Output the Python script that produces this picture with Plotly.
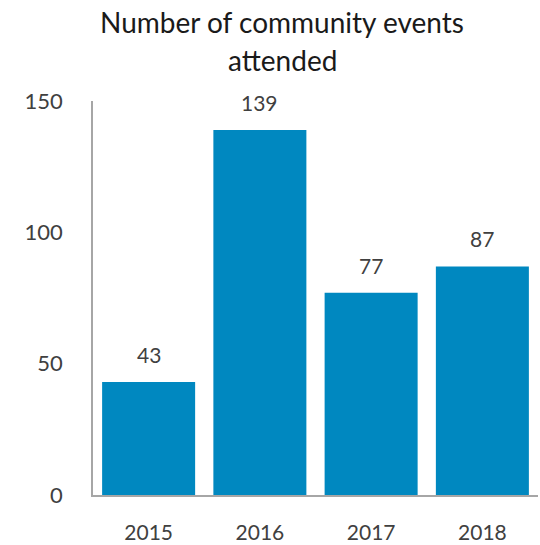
import plotly.graph_objects as go

years = ["2015", "2016", "2017", "2018"]
events = [43, 139, 77, 87]
y_ticks = [0, 50, 100, 150]
title_lines = ["Number of community events", "attended"]

BAR_COLOR = "#0088C0"
TITLE_COLOR = "#1A1A1A"
LABEL_COLOR = "#404040"
FONT = "Lato"

W, H = 540, 545
L, R, T, B = 93, 2, 101, 50
plot_w = W - L - R
plot_h = H - T - B

fig = go.Figure()
fig.add_trace(go.Bar(
    x=years,
    y=events,
    marker=dict(color=BAR_COLOR, line=dict(width=0)),
    hoverinfo="skip",
))

# value labels above each bar (positioned by category index)
for i, v in enumerate(events):
    fig.add_annotation(
        x=i, y=v, text=str(v), showarrow=False,
        xref="x", yref="y",
        yanchor="bottom", yshift=13,
        font=dict(family=FONT, size=21, color=LABEL_COLOR),
    )

# two-line chart title, one annotation per line (pixel centres 22 and 60)
for line, cy in zip(title_lines, [22, 60]):
    fig.add_annotation(
        text=line,
        xref="paper", yref="paper",
        x=(282 - L) / plot_w, y=(H - B - cy) / plot_h,
        xanchor="center", yanchor="middle", showarrow=False,
        font=dict(family=FONT, size=28, color=TITLE_COLOR),
    )

fig.update_layout(
    width=W, height=H,
    margin=dict(l=L, r=R, t=T, b=B, autoexpand=False),
    paper_bgcolor="white", plot_bgcolor="white",
    bargap=0.164,
    showlegend=False,
    font=dict(family=FONT, color=LABEL_COLOR),
)
fig.update_xaxes(
    type="category", categoryorder="array", categoryarray=years,
    range=[-0.5, len(years) - 0.5], automargin=False,
    showline=True, linecolor="#A6A6A6", linewidth=1.5,
    showgrid=False, ticks="", ticklabelstandoff=18,
    tickfont=dict(family=FONT, size=21, color=LABEL_COLOR),
)
fig.update_yaxes(
    range=[0, 150], tickvals=y_ticks, automargin=False,
    showline=True, linecolor="#A6A6A6", linewidth=1.5,
    showgrid=False, zeroline=False, ticks="", ticklabelstandoff=24,
    tickfont=dict(family=FONT, size=22, color=LABEL_COLOR),
)

fig.write_html("out.html")
